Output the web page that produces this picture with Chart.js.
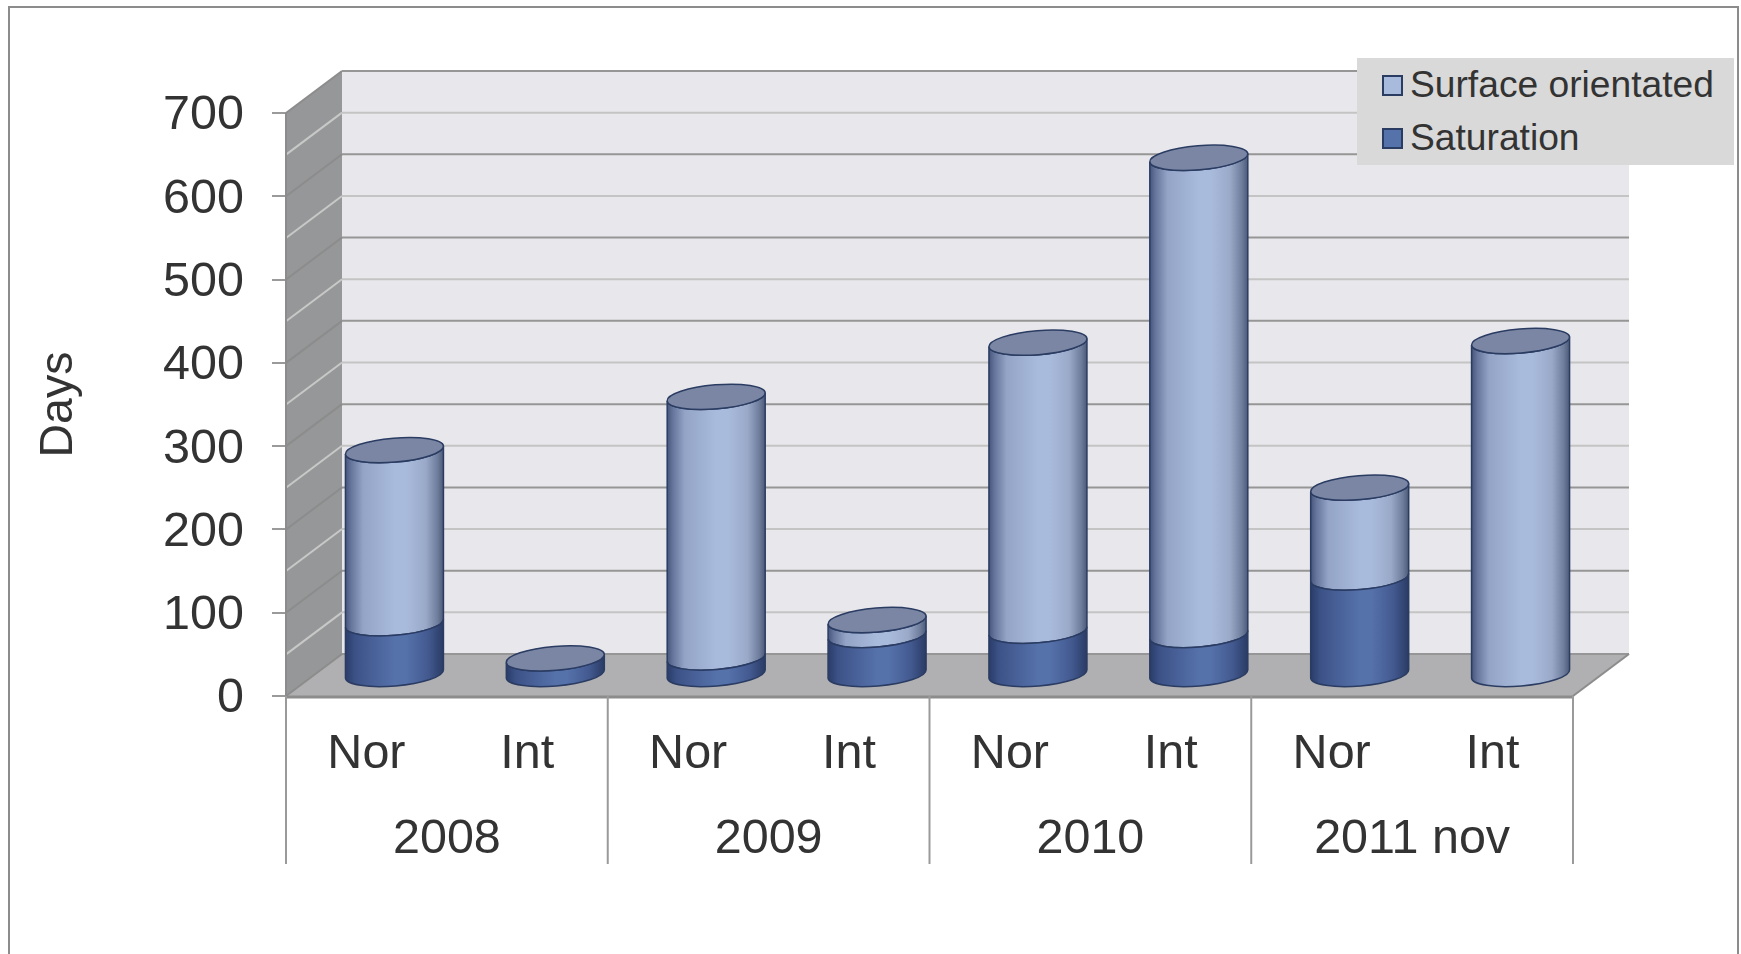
<!DOCTYPE html>
<html>
<head>
<meta charset="utf-8">
<title>Days per year</title>
<script src="https://cdn.jsdelivr.net/npm/chart.js@4/dist/chart.umd.js"></script>
<style>
  html, body { margin: 0; height: 100%; background: #fff; overflow: hidden; }
  #frame { position: absolute; left: 8px; top: 6px; width: 1727px; height: 1000px; border: 2px solid #8c8c8c; }
  canvas { position: absolute; left: 0; top: 0; }
  #legend { position: absolute; left: 1357px; top: 58px; width: 377px; height: 107px; background: #d9d9d9;
    font: 37.2px "Liberation Sans", Arial, sans-serif; color: #333; }
  #legend div { position: absolute; left: 53px; white-space: nowrap; line-height: 53px; }
  #legend i { position: absolute; left: -28px; top: 17px; width: 17px; height: 17px; border: 2px solid #2b3c63; }
</style>
</head>
<body>
<div id="frame"></div>
<canvas id="chart" width="1741" height="954"></canvas>
<div id="legend"></div>
<script>
const groups = ['Nor', 'Int', 'Nor', 'Int', 'Nor', 'Int', 'Nor', 'Int'];
const years = ['2008', '2009', '2010', '2011 nov'];
const saturation = [62, 20, 21, 48, 53, 48, 117, 0];
const surfaceOriented = [208, 0, 313, 18, 346, 573, 108, 401];
const backGrid = [0, 50, 100, 150, 200, 250, 300, 350, 400, 450, 500, 550, 600, 650, 700];

const surfaceColor = '#a9bbdc';
const saturationColor = '#5672ab';
const edgeColor = '#2b3c63';
const capColor = '#7a86a3';
const textColor = '#333333';
const fontFamily = '"Liberation Sans", Arial, sans-serif';

// dark edge -> light middle -> dark edge, across the cylinder
const shades = {
  [surfaceColor]: [[0, '#46557b'], [0.06, '#66769c'], [0.18, '#93a4c7'], [0.5, '#a9bbdc'], [0.62, '#a9bbdc'], [0.82, '#9aa9c8'], [0.94, '#6f7d9c'], [1, '#4c5a78']],
  [saturationColor]: [[0, '#2a3c68'], [0.1, '#3c5287'], [0.5, '#5672ab'], [0.62, '#5672ab'], [0.85, '#42598f'], [1, '#2a3b64']]
};

// depth of the 3d box, the bars stand half way in
const depthX = 56;
const depthY = 42;
const tilt = -4.8 * Math.PI / 180;
const capRadiusY = 12;

// bars are cylinders, same element and same geometry, only the look changes
Chart.BarElement.prototype.draw = function (ctx) {
  if (Math.abs(this.base - this.y) < 0.5) return;
  const half = this.width / 2;
  const radiusX = half / Math.cos(tilt);
  const gradient = ctx.createLinearGradient(this.x - half, 0, this.x + half, 0);
  shades[this.options.backgroundColor].forEach(s => gradient.addColorStop(s[0], s[1]));
  ctx.save();
  ctx.beginPath();
  ctx.ellipse(this.x, this.y, radiusX, capRadiusY, tilt, Math.PI, 0, true);
  ctx.ellipse(this.x, this.base, radiusX, capRadiusY, tilt, 0, Math.PI, false);
  ctx.closePath();
  ctx.fillStyle = gradient;
  ctx.fill();
  ctx.lineWidth = 1.5;
  ctx.strokeStyle = this.options.borderColor;
  ctx.stroke();
  ctx.restore();
};

function line(ctx, x1, y1, x2, y2, color, width) {
  ctx.beginPath();
  ctx.moveTo(x1, y1);
  ctx.lineTo(x2, y2);
  ctx.strokeStyle = color;
  ctx.lineWidth = width;
  ctx.stroke();
}

const box3d = {
  id: 'box3d',
  afterUpdate(chart) {
    // digits sit a bit low on their tick in the original
    chart.scales.y.getLabelItems(chart.chartArea).forEach(item => { item.textOffset += 3; });
  },
  beforeDatasetsDraw(chart) {
    const { ctx, chartArea: area, scales } = chart;
    const y = scales.y;
    const zero = y.getPixelForValue(0);
    const top = y.getPixelForValue(700);

    // back wall
    ctx.fillStyle = '#e8e8ec';
    ctx.fillRect(area.left + depthX, top - depthY, area.width, zero - top);

    // left wall
    ctx.fillStyle = '#969798';
    ctx.beginPath();
    ctx.moveTo(area.left, top);
    ctx.lineTo(area.left + depthX, top - depthY);
    ctx.lineTo(area.left + depthX, zero - depthY);
    ctx.lineTo(area.left, zero);
    ctx.closePath();
    ctx.fill();

    // floor
    ctx.fillStyle = '#b0b0b2';
    ctx.beginPath();
    ctx.moveTo(area.left, zero);
    ctx.lineTo(area.left + depthX, zero - depthY);
    ctx.lineTo(area.right + depthX, zero - depthY);
    ctx.lineTo(area.right, zero);
    ctx.closePath();
    ctx.fill();

    // grid on the walls, every other line is darker
    backGrid.forEach(v => {
      const py = y.getPixelForValue(v);
      const major = v % 100 === 0;
      if (v > 0) {
        line(ctx, area.left, py, area.left + depthX, py - depthY, major ? '#8c8c8c' : '#c8c8c8', 2);
        line(ctx, area.left + depthX, py - depthY, area.right + depthX, py - depthY, major ? '#969696' : '#c4c4c4', 2);
      }
    });

    line(ctx, area.left + depthX, zero - depthY, area.right + depthX, zero - depthY, '#969696', 2);
    line(ctx, area.left, zero, area.left + depthX, zero - depthY, '#8c8c8c', 2);
    line(ctx, area.right, zero, area.right + depthX, zero - depthY, '#8c8c8c', 2);
    line(ctx, area.left, top, area.left, zero, '#8c8c8c', 2);
    line(ctx, area.left, zero + 1, area.right, zero + 1, '#8c8c8c', 3);

    // long separators between the years
    const yearScale = scales.x2;
    years.concat('').forEach((_, i) => {
      const px = yearScale.getPixelForValue(i - 0.5);
      line(ctx, px, zero, px, yearScale.bottom, '#9a9a9a', 2);
    });

    ctx.save();
    ctx.translate(depthX / 2, -depthY / 2);
  },
  afterDatasetsDraw(chart) {
    const { ctx } = chart;
    const lower = chart.getDatasetMeta(0).data;
    const upper = chart.getDatasetMeta(1).data;
    groups.forEach((_, i) => {
      const bar = surfaceOriented[i] > 0 ? upper[i] : lower[i];
      ctx.beginPath();
      ctx.ellipse(bar.x, bar.y, bar.width / 2 / Math.cos(tilt), capRadiusY, tilt, 0, Math.PI * 2);
      ctx.fillStyle = capColor;
      ctx.fill();
      ctx.lineWidth = 1.5;
      ctx.strokeStyle = edgeColor;
      ctx.stroke();
    });
    ctx.restore();
  }
};

const tickFont = { family: fontFamily, size: 48.5 };

new Chart(document.getElementById('chart'), {
  type: 'bar',
  data: {
    labels: groups,
    datasets: [
      { label: 'Saturation', data: saturation, backgroundColor: saturationColor, borderColor: edgeColor, clip: false },
      { label: 'Surface orientated', data: surfaceOriented, backgroundColor: surfaceColor, borderColor: edgeColor, clip: false }
    ]
  },
  options: {
    responsive: false,
    devicePixelRatio: 1,
    animation: false,
    barThickness: 98,
    layout: { padding: { left: 0, top: 113, right: 168, bottom: 90 } },
    plugins: { legend: { display: false }, tooltip: { enabled: false } },
    scales: {
      x: {
        stacked: true,
        grid: { display: false },
        border: { display: false },
        ticks: { font: tickFont, color: textColor, padding: 22, maxRotation: 0, autoSkip: false },
        afterFit(scale) { scale.height = 76; }
      },
      x2: {
        type: 'category',
        axis: 'x',
        position: 'bottom',
        labels: years,
        offset: true,
        grid: { display: false },
        border: { display: false },
        ticks: { font: tickFont, color: textColor, padding: 31, maxRotation: 0 },
        afterFit(scale) { scale.height = 92; }
      },
      y: {
        stacked: true,
        min: 0,
        max: 700,
        grid: { drawOnChartArea: false, color: '#9a9a9a', lineWidth: 2, tickLength: 14 },
        border: { display: false },
        ticks: { font: tickFont, color: textColor, stepSize: 100, padding: 28 },
        title: { display: true, text: 'Days', font: { family: fontFamily, size: 46.5 }, color: textColor, padding: { top: 31, bottom: 0 } },
        afterFit(scale) { scale.width = 286; }
      }
    }
  },
  plugins: [box3d]
});

// legend box sits over the corner of the wall, top series first
const legendBox = document.getElementById('legend');
[['Surface orientated', surfaceColor, 0], ['Saturation', saturationColor, 53]].forEach(item => {
  const row = document.createElement('div');
  row.style.top = item[2] + 'px';
  row.innerHTML = '<i style="background:' + item[1] + '"></i>' + item[0];
  legendBox.appendChild(row);
});
</script>
</body>
</html>
